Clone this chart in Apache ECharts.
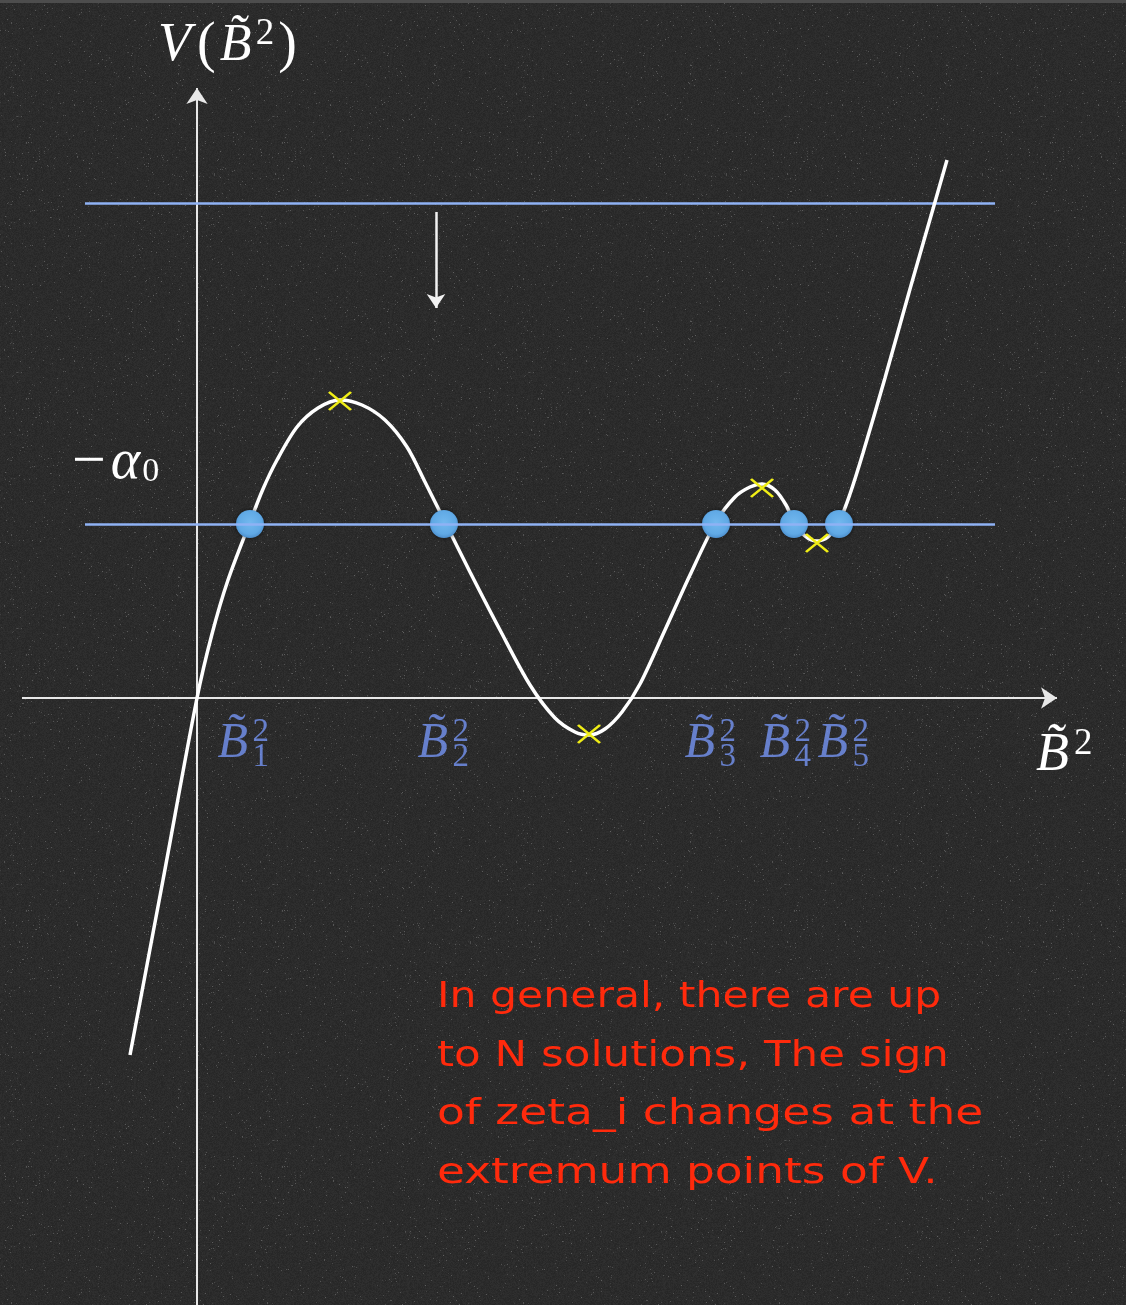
<!DOCTYPE html>
<html><head><meta charset="utf-8">
<script src="https://cdn.jsdelivr.net/npm/echarts@6/dist/echarts.min.js"></script>
<style>html,body{margin:0;padding:0;background:#2a2a2a;overflow:hidden}#c{width:1126px;height:1305px}</style>
</head><body><div id="c"></div>
<script>
// Potential V(B~^2) (x = B~^2, y = V), arbitrary units
const curveX = [-0.67,-0.34,0.00,0.15,0.31,0.53,0.66,0.80,1.00,1.21,1.43,1.65,1.88,2.10,2.28,2.48,2.73,3.03,3.33,3.58,3.78,3.92,4.08,4.25,4.43,4.68,4.93,5.19,5.38,5.53,5.65,5.78,5.89,5.97,6.08,6.19,6.31,6.42,6.53,6.66,6.88,7.13,7.38,7.50];
const curveY = [-3.57,-1.82,0.00,0.64,1.18,1.76,2.09,2.38,2.71,2.90,2.98,2.93,2.78,2.51,2.16,1.76,1.26,0.68,0.13,-0.20,-0.34,-0.37,-0.31,-0.14,0.14,0.68,1.23,1.76,2.01,2.11,2.14,2.08,1.93,1.76,1.62,1.57,1.61,1.76,2.04,2.45,3.20,4.09,4.96,5.38];
// extremum points of V (yellow crosses)
const extremaX = [1.43, 3.92, 5.65, 6.20];
const extremaY = [2.97, -0.36, 2.10, 1.55];
// level -alpha0 and its solutions B~_i^2
const alpha0 = 1.74;
const upperLevel = 4.95;
const levelFrom = -1.12, levelTo = 7.98;
const rootsX = [0.53, 2.47, 5.19, 5.97, 6.42];
const rootIndex = ['1','2','3','4','5'];
// axes extents
const xAxisFrom = -1.75, xAxisTo = 8.60;
const yAxisFrom = -6.2, yAxisTo = 6.10;
// downward shift arrow
const shiftX = 2.39, shiftFrom = 4.86, shiftTo = 3.90;
const noteLines = ['In general, there are up','to N solutions, The sign','of zeta_i changes at the','extremum points of V.'];

function texture(){
  const n=256, c=document.createElement('canvas'); c.width=c.height=n;
  const ctx=c.getContext('2d'); const img=ctx.createImageData(n,n);
  let s=987654321;
  const next=()=>{ s^=s<<13; s^=s>>>17; s^=s<<5; return ((s>>>0)%10000)/10000; };
  for(let i=0;i<n*n;i++){
    let v=38+next()*10;
    if(next()<0.014) v+=18+next()*32;
    img.data[i*4]=img.data[i*4+1]=img.data[i*4+2]=v; img.data[i*4+3]=255;
  }
  ctx.putImageData(img,0,0); return c;
}

const serif = '"Liberation Serif", "DejaVu Serif", serif';
const blueTxt = '#7595f4';
const chart = echarts.init(document.getElementById('c'), null, {renderer:'canvas'});

const curve = curveX.map((x,i)=>[x, curveY[i]]);
const extrema = extremaX.map((x,i)=>[x, extremaY[i]]);
const roots = rootsX.map(x=>[x, alpha0]);
const labelShift = [-32,-26,-31,-34,-21];
const noteStretch = [1.216,1.245,1.30,1.297];

const option = {
  animation:false,
  backgroundColor:{image:texture(), repeat:'repeat'},
  grid:{left:0,right:0,top:0,bottom:0,containLabel:false},
  xAxis:{type:'value',min:-1.97,max:9.29,show:false},
  yAxis:{type:'value',min:-6.07,max:6.98,show:false},
  series:[
    {type:'lines',coordinateSystem:'cartesian2d',z:1,silent:true,
     symbol:['none','arrow'],symbolSize:16,
     lineStyle:{color:'#e8e8e8',width:2,opacity:1,curveness:0},
     data:[{coords:[[xAxisFrom,0],[xAxisTo,0]]},{coords:[[0,yAxisFrom],[0,yAxisTo]]}]},
    {type:'lines',coordinateSystem:'cartesian2d',z:1,silent:true,
     symbol:['none','arrow'],symbolSize:14,
     lineStyle:{color:'#f2f2f2',width:2.5,opacity:1},
     data:[{coords:[[shiftX,shiftFrom],[shiftX,shiftTo]]}]},
    {type:'lines',coordinateSystem:'cartesian2d',z:2,silent:true,
     lineStyle:{color:'#8fb2f4',width:2.5,opacity:1},
     data:[{coords:[[levelFrom,upperLevel],[levelTo,upperLevel]]}]},
    {type:'line',data:curve,smooth:0.3,showSymbol:false,z:3,silent:true,
     lineStyle:{color:'#ffffff',width:3.5}},
    {type:'scatter',data:roots,z:4,symbolSize:28,silent:true,
     itemStyle:{opacity:1,shadowBlur:5,shadowColor:'rgba(0,0,0,0.6)',
       color:{type:'radial',x:0.5,y:0.45,r:0.55,colorStops:[{offset:0,color:'#72b8ef'},{offset:0.75,color:'#60a9e5'},{offset:1,color:'#4d8fcd'}]}}},
    {type:'lines',coordinateSystem:'cartesian2d',z:5,silent:true,
     lineStyle:{color:'#8fb2f4',width:2.5,opacity:1},
     data:[{coords:[[levelFrom,alpha0],[levelTo,alpha0]]}]},
    {type:'scatter',data:extrema,z:6,silent:true,symbol:'path://M0,0L22,18M22,0L0,18',symbolSize:[22,18],
     itemStyle:{color:'rgba(0,0,0,0)',borderColor:'#f0ee16',borderWidth:2.6,opacity:1}},
    {type:'scatter',z:7,silent:true,symbolSize:1,itemStyle:{color:'rgba(0,0,0,0)'},
     data:rootsX.map((x,i)=>({value:[x,0],label:{position:[labelShift[i],46]}})),
     label:{show:true,align:'left',verticalAlign:'middle',formatter:'{b|B\u0303}{s|2}',
       rich:{b:{fontFamily:serif,fontStyle:'italic',fontSize:50,lineHeight:56,width:35,color:blueTxt},
             s:{fontFamily:serif,fontSize:33,lineHeight:30,verticalAlign:'top',color:blueTxt}}}},
    {type:'scatter',z:7,silent:true,symbolSize:1,itemStyle:{color:'rgba(0,0,0,0)'},
     data:rootsX.map((x,i)=>({value:[x,0],label:{position:[labelShift[i]+35,60],formatter:rootIndex[i]}})),
     label:{show:true,align:'left',verticalAlign:'middle',fontFamily:serif,fontSize:33,color:blueTxt}}
  ],
  graphic:[
    {type:'rect',shape:{x:0,y:0,width:1126,height:3},style:{fill:'#4d4d4d'},z:10},
    {type:'text',x:158,y:46,z:10,style:{text:'{v|V}{p|(}{b|B\u0303}{s|2}{q|)}',verticalAlign:'middle',align:'left',
      rich:{v:{fontFamily:serif,fontStyle:'italic',fontSize:54,lineHeight:60,fill:'#fff',padding:[0,6,0,0]},
            p:{fontFamily:serif,fontSize:56,lineHeight:60,fill:'#fff',padding:[0,4,0,0]},
            q:{fontFamily:serif,fontSize:56,lineHeight:60,fill:'#fff',padding:[0,0,0,4]},
            b:{fontFamily:serif,fontStyle:'italic',fontSize:52,lineHeight:60,fill:'#fff',width:36},
            s:{fontFamily:serif,fontSize:37,lineHeight:30,verticalAlign:'top',fill:'#fff'}}}},
    {type:'text',x:72,y:463,z:10,style:{text:'{m|\u2212}{a|\u03b1}{s|0}',verticalAlign:'middle',align:'left',
      rich:{m:{fontFamily:serif,fontSize:60,lineHeight:52,fill:'#fff',padding:[0,5,0,0]},
            a:{fontFamily:serif,fontStyle:'italic',fontSize:56,lineHeight:52,fill:'#fff'},
            s:{fontFamily:serif,fontSize:34,lineHeight:36,verticalAlign:'bottom',fill:'#fff',padding:[0,0,0,2]}}}},
    {type:'text',x:1036,y:756,z:10,style:{text:'{b|B\u0303}{s|2}',verticalAlign:'middle',align:'left',
      rich:{b:{fontFamily:serif,fontStyle:'italic',fontSize:54,lineHeight:60,fill:'#fff',width:38},
            s:{fontFamily:serif,fontSize:37,lineHeight:30,verticalAlign:'top',fill:'#fff'}}}}
  ].concat(noteLines.map((t,i)=>({
      type:'text',x:437,y:998+i*58.7,scaleX:noteStretch[i],z:10,
      style:{text:t,fontFamily:'"DejaVu Sans", sans-serif',fontSize:35,fill:'#ff2a0c',verticalAlign:'middle',align:'left'}})))
};
chart.setOption(option);
</script></body></html>
